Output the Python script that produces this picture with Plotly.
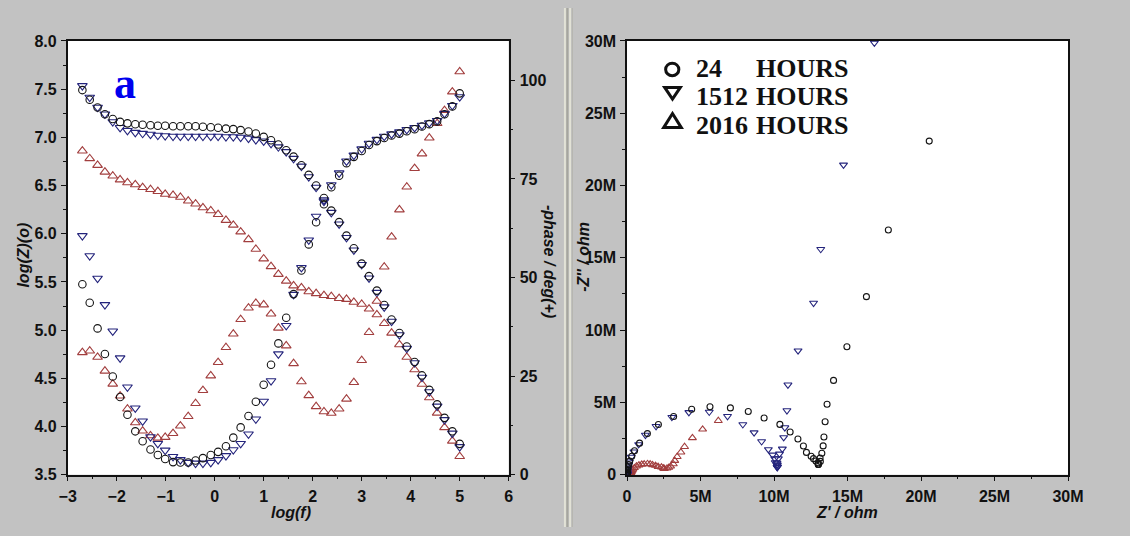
import numpy as np
import plotly.graph_objects as go

W, H = 1130, 536

# Frequency sweep, log10(f / Hz)
log_f = [-2.70, -2.55, -2.39, -2.24, -2.08, -1.93, -1.78, -1.62, -1.47, -1.31,
         -1.16, -1.01, -0.85, -0.70, -0.54, -0.39, -0.24, -0.08, 0.07, 0.23,
         0.38, 0.53, 0.69, 0.84, 1.00, 1.15, 1.30, 1.46, 1.61, 1.77,
         1.92, 2.07, 2.23, 2.38, 2.54, 2.69, 2.84, 3.00, 3.15, 3.31,
         3.46, 3.61, 3.77, 3.92, 4.08, 4.23, 4.38, 4.54, 4.69, 4.85, 5.00]

# log10(|Z| / ohm)
logz_24h = [7.49, 7.39, 7.31, 7.24, 7.19, 7.16, 7.145, 7.135, 7.13, 7.125,
            7.12, 7.12, 7.115, 7.115, 7.115, 7.115, 7.11, 7.105, 7.10, 7.09,
            7.085, 7.075, 7.06, 7.04, 7.005, 6.97, 6.925, 6.866, 6.80, 6.71,
            6.61, 6.50, 6.37, 6.24, 6.12, 5.98, 5.85, 5.69, 5.56, 5.41,
            5.26, 5.11, 4.97, 4.83, 4.67, 4.53, 4.38, 4.23, 4.09, 3.95, 3.82]
logz_1512h = [7.535, 7.415, 7.31, 7.24, 7.16, 7.10, 7.07, 7.05, 7.04, 7.03,
              7.02, 7.015, 7.01, 7.01, 7.01, 7.01, 7.01, 7.01, 7.01, 7.005,
              7.005, 7.00, 6.99, 6.975, 6.96, 6.935, 6.90, 6.85, 6.78, 6.70,
              6.59, 6.48, 6.35, 6.22, 6.10, 5.96, 5.83, 5.68, 5.54, 5.39,
              5.24, 5.09, 4.95, 4.81, 4.66, 4.51, 4.36, 4.21, 4.07, 3.93, 3.79]
logz_2016h = [6.86, 6.78, 6.71, 6.64, 6.60, 6.56, 6.53, 6.51, 6.48, 6.46,
              6.44, 6.41, 6.40, 6.38, 6.34, 6.31, 6.27, 6.24, 6.20, 6.14,
              6.09, 6.02, 5.94, 5.84, 5.74, 5.66, 5.58, 5.51, 5.46, 5.44,
              5.40, 5.38, 5.36, 5.35, 5.33, 5.32, 5.29, 5.27, 5.22, 5.16,
              5.07, 4.97, 4.85, 4.72, 4.59, 4.44, 4.30, 4.14, 3.99, 3.85, 3.69]

# -phase / degrees
phase_24h = [48.3, 43.6, 37.1, 30.6, 24.9, 19.7, 15.2, 11.0, 8.5, 6.4,
             5.0, 4.0, 3.2, 3.1, 3.1, 3.6, 4.2, 5.0, 5.8, 7.2,
             9.4, 12.0, 14.9, 18.5, 22.8, 27.9, 33.3, 39.8, 45.8, 51.8,
             58.4, 64.0, 68.6, 72.9, 75.8, 79.0, 80.6, 82.1, 83.6, 84.6,
             85.4, 86.0, 86.5, 87.1, 87.6, 88.3, 88.9, 89.6, 91.4, 93.4, 96.7]
phase_1512h = [60.6, 55.5, 49.8, 43.1, 36.4, 29.6, 22.2, 16.9, 13.6, 9.6,
               7.9, 6.2, 4.6, 3.8, 3.1, 2.9, 2.9, 3.1, 3.8, 4.8,
               6.3, 7.9, 10.3, 14.1, 18.6, 23.8, 30.6, 37.8, 45.7, 52.5,
               59.5, 65.5, 69.3, 73.5, 76.5, 79.5, 81.0, 82.6, 84.0, 85.0,
               85.8, 86.4, 86.9, 87.5, 88.0, 88.6, 89.2, 89.8, 91.6, 93.6, 95.8]
phase_2016h = [31.0, 31.4, 29.8, 26.3, 23.0, 20.0, 16.7, 13.2, 11.1, 9.9,
               9.3, 9.5, 10.5, 12.4, 14.8, 18.1, 21.4, 25.1, 28.5, 32.3,
               35.7, 39.4, 42.3, 43.5, 43.1, 40.8, 37.2, 32.7, 28.2, 23.6,
               20.1, 17.3, 16.0, 15.6, 16.7, 19.2, 23.4, 29.0, 36.1, 44.0,
               52.7, 60.3, 67.2, 73.0, 77.7, 81.4, 85.4, 89.1, 92.4, 97.1, 102.2]

series_names = ["24", "1512", "2016"]
nyq_ticks = [0, 5e6, 10e6, 15e6, 20e6, 25e6, 30e6]
nyq_ticktext = ["0", "5M", "10M", "15M", "20M", "25M", "30M"]

BLACK = "#151515"
NAVY = "#24247c"
RED = "#a23e3e"
BG = "#c2c2c2"


def nyquist(logz, phase):
    mod = np.power(10.0, np.array(logz))
    ph = np.radians(np.array(phase))
    return mod * np.cos(ph), mod * np.sin(ph)


def px(x):
    return x / W


def py(y):
    return 1 - y / H


fig = go.Figure()

styles = [
    (logz_2016h, phase_2016h, "triangle-up-open", RED, 8.5, 7),
    (logz_1512h, phase_1512h, "triangle-down-open", NAVY, 8.5, 7),
    (logz_24h, phase_24h, "circle-open", BLACK, 7.5, 6),
]

for logz, phase, sym, col, sz, nsz in styles:
    mk = dict(symbol=sym, size=sz, color=col, line=dict(width=1.1, color=col))
    fig.add_trace(go.Scatter(x=log_f, y=logz, mode="markers", marker=mk,
                             xaxis="x", yaxis="y", showlegend=False))
    fig.add_trace(go.Scatter(x=log_f, y=phase, mode="markers", marker=mk,
                             xaxis="x", yaxis="y2", showlegend=False))
    zr, zi = nyquist(logz, phase)
    mk_n = dict(symbol=sym, size=nsz, color=col, line=dict(width=1.1, color=col))
    fig.add_trace(go.Scatter(x=zr, y=zi, mode="markers", marker=mk_n,
                             xaxis="x2", yaxis="y3", showlegend=False))

tick_font = dict(family="Liberation Sans, Arial, sans-serif", size=16,
                 color="#111111", weight="bold")
axis_common = dict(showline=True, linecolor="#111111", linewidth=1.5,
                   ticks="outside", ticklen=5, tickwidth=1.3,
                   tickcolor="#111111", showgrid=False, zeroline=False,
                   tickfont=tick_font, ticklabelstandoff=1)

dom_y = [py(482), py(34)]
fig.update_layout(
    width=W, height=H,
    margin=dict(l=0, r=0, t=0, b=0),
    paper_bgcolor=BG, plot_bgcolor="white",
    xaxis=dict(domain=[px(60), px(511)], range=[-3, 6], anchor="y",
               tickvals=list(range(-3, 7)), mirror=True,
               minor=dict(ticks="outside", ticklen=3, dtick=0.5,
                          tickcolor="#111111"),
               **axis_common),
    yaxis=dict(domain=dom_y, range=[3.5, 8.0], anchor="x", dtick=0.5,
               tickformat=".1f",
               minor=dict(ticks="outside", ticklen=3, dtick=0.25,
                          tickcolor="#111111"),
               **axis_common),
    yaxis2=dict(overlaying="y", side="right", anchor="x", range=[0, 110],
                tickvals=[0, 25, 50, 75, 100],
                minor=dict(ticks="outside", ticklen=3,
                           tickvals=[12.5, 37.5, 62.5, 87.5],
                           tickcolor="#111111"),
                **axis_common),
    xaxis2=dict(domain=[px(632), px(1083)], range=[0, 30e6], anchor="y3",
                tickvals=nyq_ticks, ticktext=nyq_ticktext, mirror=True,
                minor=dict(ticks="outside", ticklen=3, dtick=2.5e6,
                           tickcolor="#111111"),
                **axis_common),
    yaxis3=dict(domain=dom_y, range=[0, 30e6], anchor="x2",
                tickvals=nyq_ticks, ticktext=nyq_ticktext, mirror=True,
                minor=dict(ticks="outside", ticklen=3, dtick=2.5e6,
                           tickcolor="#111111"),
                **axis_common),
)

title_font = dict(family="Liberation Sans, Arial, sans-serif", size=16,
                  color="#111111", weight="bold", style="italic")

annotations = [
    dict(x=px(288), y=py(521), text="log(f)", textangle=0),
    dict(x=px(15), y=py(255), text="log(Z)(o)", textangle=-90),
    dict(x=px(553), y=py(262), text="-phase / deg(+)", textangle=90),
    dict(x=px(857), y=py(521), text="Z' / ohm", textangle=0),
    dict(x=px(588), y=py(257), text="-Z'' / ohm", textangle=-90),
]
for a in annotations:
    fig.add_annotation(xref="paper", yref="paper", showarrow=False,
                       xanchor="center", yanchor="middle", borderpad=0,
                       font=title_font, **a)

# panel label
fig.add_annotation(xref="paper", yref="paper", x=px(119), y=py(78),
                   text="a", showarrow=False, xanchor="center", yanchor="middle",
                   font=dict(family="Liberation Serif, Times New Roman, serif",
                             size=44, color="#0000ee", weight="bold"))

# legend text
legend_font = dict(family="Liberation Serif, Times New Roman, serif",
                   size=26, color="#111111", weight="bold")
for name, yc in zip(series_names, [62, 91, 121]):
    fig.add_annotation(xref="paper", yref="paper", x=px(701), y=py(yc),
                       text=name, showarrow=False, xanchor="left",
                       yanchor="middle", font=legend_font)
    fig.add_annotation(xref="paper", yref="paper", x=px(860), y=py(yc),
                       text="HOURS", showarrow=False, xanchor="right",
                       yanchor="middle", font=legend_font)

shapes = []
# legend symbols
shapes.append(dict(type="circle", xref="paper", yref="paper",
                   x0=px(671.5), x1=px(685), y0=py(70), y1=py(57),
                   line=dict(color="#111111", width=3)))
shapes.append(dict(type="path", xref="paper", yref="paper",
                   path=f"M {px(670.5)} {py(82)} L {px(686.5)} {py(82)} "
                        f"L {px(678.5)} {py(94)} Z",
                   line=dict(color="#111111", width=3)))
shapes.append(dict(type="path", xref="paper", yref="paper",
                   path=f"M {px(669.5)} {py(123.5)} L {px(687.5)} {py(123.5)} "
                        f"L {px(678.5)} {py(109)} Z",
                   line=dict(color="#111111", width=3)))

# window separator between the two panels
for xl, col, wd in [(568.5, "#e2e2d6", 2), (571, "#a6a69e", 2),
                    (573.8, "#e2e2d6", 2), (576, "#b2b2aa", 1)]:
    shapes.append(dict(type="line", xref="paper", yref="paper",
                       x0=px(xl), x1=px(xl), y0=0, y1=1,
                       line=dict(color=col, width=wd)))
fig.update_layout(shapes=shapes)

fig.write_html("out.html")
